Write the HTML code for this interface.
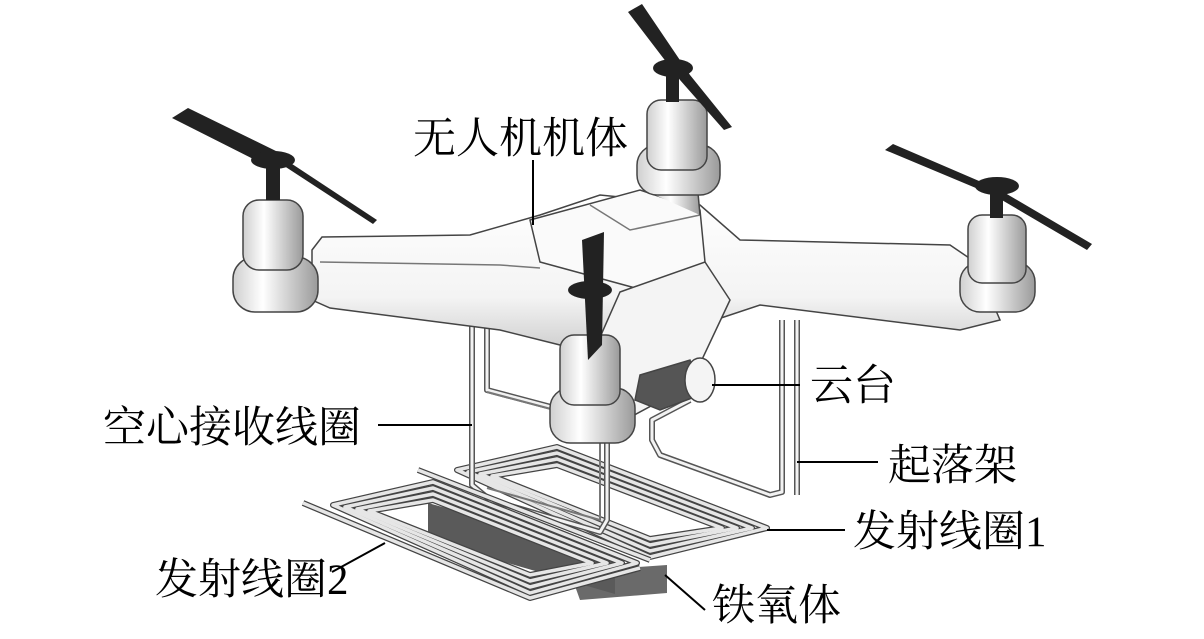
<!DOCTYPE html>
<html><head><meta charset="utf-8"><style>
html,body{margin:0;padding:0;background:#fff;width:1204px;height:639px;overflow:hidden}
svg{display:block}
text{font-family:"Liberation Serif","Noto Serif CJK SC",serif;font-size:43px;fill:#000}
</style></head><body>
<svg width="1204" height="639" viewBox="0 0 1204 639" xmlns="http://www.w3.org/2000/svg">
<defs>
<linearGradient id="cyl" x1="0" x2="1" y1="0" y2="0">
<stop offset="0" stop-color="#cfcfcf"/><stop offset="0.35" stop-color="#fff"/><stop offset="1" stop-color="#9a9a9a"/></linearGradient>
<linearGradient id="arm" x1="0" x2="0" y1="0" y2="1">
<stop offset="0" stop-color="#fff"/><stop offset="0.6" stop-color="#f4f4f4"/><stop offset="1" stop-color="#c4c4c4"/></linearGradient>
</defs>
<!-- ferrite -->
<path d="M570 572 L667 565 L667 593 L580 600 Z" fill="#6a6a6a"/>
<path d="M428 503 L615 555 L615 594 L428 540 Z" fill="#5a5a5a"/>
<!-- coil 1 (back-right) -->
<g fill="none" stroke-linejoin="round">
<g stroke="#444" stroke-width="6">
<path d="M457 470 L557 447 L767 528 L650 557 Z"/>
<path d="M468 472 L557 453 L752 528 L650 551 Z"/>
<path d="M480 474 L557 459 L737 528 L650 545 Z"/>
<path d="M492 476 L557 465 L722 528 L650 539 Z"/>
</g>
<g stroke="#e6e6e6" stroke-width="3.5">
<path d="M457 470 L557 447 L767 528 L650 557 Z"/>
<path d="M468 472 L557 453 L752 528 L650 551 Z"/>
<path d="M480 474 L557 459 L737 528 L650 545 Z"/>
<path d="M492 476 L557 465 L722 528 L650 539 Z"/>
</g>
</g>
<!-- landing legs -->
<g fill="none" stroke-linejoin="round">
<g stroke="#555" stroke-width="6">
<path d="M472 320 L472 485 L490 500 L600 532 L607 520 L607 440"/>
<path d="M487 320 L487 390 L600 420"/>
<path d="M782 320 L782 492 L770 495 L660 455 L652 440 L652 420 L690 400"/>
<path d="M797 320 L797 495"/>
</g>
<g stroke="#f2f2f2" stroke-width="3">
<path d="M472 320 L472 485 L490 500 L600 532 L607 520 L607 440"/>
<path d="M487 320 L487 390 L600 420"/>
<path d="M782 320 L782 492 L770 495 L660 455 L652 440 L652 420 L690 400"/>
<path d="M797 320 L797 495"/>
</g>
<path d="M487 392 L600 422 L600 520 L487 488" stroke="#777" stroke-width="2"/>
</g>
<!-- coil 2 (front-left) -->
<g fill="none" stroke-linejoin="round">
<g stroke="#444" stroke-width="6">
<path d="M333 505 L433 482 L637 563 L530 593 Z"/>
<path d="M345 507 L433 488 L622 563 L530 587 Z"/>
<path d="M357 509 L433 494 L607 563 L530 581 Z"/>
<path d="M369 511 L433 500 L592 563 L530 575 Z"/>
<path d="M303 503 L530 598 L640 568"/>
<path d="M418 470 L650 560"/>
</g>
<g stroke="#e6e6e6" stroke-width="3.5">
<path d="M333 505 L433 482 L637 563 L530 593 Z"/>
<path d="M345 507 L433 488 L622 563 L530 587 Z"/>
<path d="M357 509 L433 494 L607 563 L530 581 Z"/>
<path d="M369 511 L433 500 L592 563 L530 575 Z"/>
<path d="M303 503 L530 598 L640 568"/>
<path d="M418 470 L650 560"/>
</g>
</g>
<g fill="none" stroke="#444" stroke-width="1.5">
<!-- arms -->
<path d="M312 250 L322 237 L470 235 L540 215 L600 195 L700 205 L740 240 L950 245 L975 262 L1000 320 L960 330 L760 305 L700 325 L625 365 L560 345 L500 330 L330 308 L312 300 Z" fill="url(#arm)"/>
<path d="M320 262 L500 265 L540 268" stroke="#777"/>
<path d="M530 220 L640 190 L700 210 L705 262 L650 292 L540 262 Z" fill="#fafafa"/>
<path d="M590 205 L630 230 L700 215" stroke="#777"/>
<path d="M620 292 L705 262 L730 300 L690 385 L625 420 L590 360 Z" fill="#f4f4f4"/>
<path d="M655 195 L665 160 L695 160 L700 215" fill="url(#cyl)"/>
<path d="M640 375 L690 360 L700 395 L660 410 L635 400 Z" fill="#555"/>
<ellipse cx="700" cy="380" rx="15" ry="22" fill="#f4f4f4"/>
<!-- motors -->
<g fill="url(#cyl)">
<rect x="233" y="257" width="85" height="55" rx="22"/><rect x="243" y="200" width="60" height="70" rx="16"/>
<rect x="960" y="262" width="75" height="50" rx="20"/><rect x="968" y="215" width="58" height="68" rx="14"/>
<rect x="637" y="145" width="83" height="50" rx="20"/><rect x="647" y="100" width="60" height="70" rx="14"/>
<rect x="550" y="388" width="85" height="55" rx="20"/><rect x="560" y="335" width="60" height="70" rx="14"/>
</g>
</g>
<!-- props -->
<g fill="#222" stroke="none">
<path d="M172 118 L188 108 L280 153 L275 170 Z"/>
<path d="M275 160 L283 158 L377 220 L373 224 Z"/>
<ellipse cx="273" cy="160" rx="22" ry="9"/><rect x="266" y="165" width="14" height="35"/>
<path d="M885 150 L893 144 L1000 190 L1092 244 L1087 250 L995 196 Z"/>
<ellipse cx="997" cy="186" rx="22" ry="9"/><rect x="990" y="190" width="13" height="28"/>
<path d="M628 12 L642 4 L690 75 L732 127 L724 130 L680 80 Z"/>
<ellipse cx="673" cy="68" rx="20" ry="9"/><rect x="666" y="72" width="13" height="30"/>
<path d="M582 240 L604 232 L602 345 L588 360 Z"/>
<ellipse cx="590" cy="290" rx="22" ry="9"/>
</g>
<!-- leader lines -->
<g stroke="#000" stroke-width="2">
<line x1="533" y1="160" x2="533" y2="225"/>
<line x1="712" y1="385" x2="800" y2="385"/>
<line x1="378" y1="425" x2="472" y2="425"/>
<line x1="797" y1="462" x2="878" y2="462"/>
<line x1="767" y1="530" x2="845" y2="530"/>
<line x1="332" y1="572" x2="385" y2="543"/>
<line x1="665" y1="575" x2="705" y2="610"/>
</g>
<text x="413" y="153">无人机机体</text>
<text x="810" y="400">云台</text>
<text x="103" y="442">空心接收线圈</text>
<text x="888" y="480">起落架</text>
<text x="853" y="546">发射线圈1</text>
<text x="155" y="594">发射线圈2</text>
<text x="712" y="620">铁氧体</text>
</svg>
</body></html>
